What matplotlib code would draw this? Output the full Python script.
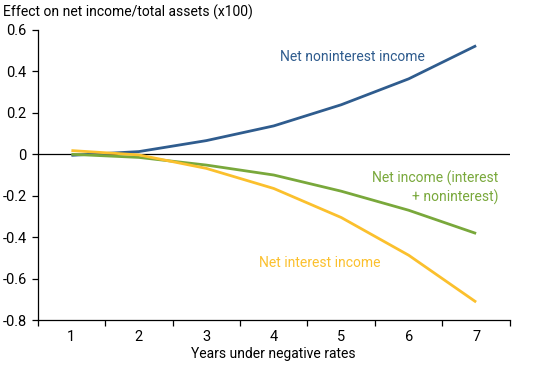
import matplotlib
matplotlib.use('Agg')
import matplotlib.pyplot as plt

plt.rcParams['font.family'] = ['Roboto', 'DejaVu Sans']

years = [1, 2, 3, 4, 5, 6, 7]
noninterest = [-0.005, 0.013, 0.066, 0.137, 0.239, 0.364, 0.524]
net_income = [0.0, -0.015, -0.052, -0.100, -0.178, -0.270, -0.382]
interest = [0.018, -0.003, -0.068, -0.165, -0.305, -0.487, -0.713]

c_blue = '#2f5c8e'
c_green = '#79a83b'
c_yellow = '#fbc02d'

fig = plt.figure(figsize=(5.5, 3.65), dpi=100)
ax = fig.add_axes([0.0685, 0.123, 0.8585, 0.795])

ax.plot(years, noninterest, color=c_blue, lw=2.0, solid_capstyle='butt')
ax.plot(years, net_income, color=c_green, lw=2.0, solid_capstyle='butt')
ax.plot(years, interest, color=c_yellow, lw=2.0, solid_capstyle='butt')
ax.axhline(0, color='black', lw=0.9, zorder=0)

ax.set_xlim(0.5, 7.5)
ax.set_ylim(-0.8, 0.6)
ax.set_yticks([-0.8, -0.6, -0.4, -0.2, 0, 0.2, 0.4, 0.6])
ax.set_yticklabels(['-0.8', '-0.6', '-0.4', '-0.2', '0', '0.2', '0.4', '0.6'])
ax.set_xticks([x + 0.5 for x in range(0, 8)])
ax.set_xticklabels([])
ax.set_xticks(years, minor=True)
ax.set_xticklabels([str(y) for y in years], minor=True)
ax.tick_params(axis='x', which='minor', length=0, pad=7, labelsize=10.5)
ax.tick_params(axis='x', which='major', length=4, width=0.9)
ax.tick_params(axis='y', length=4, width=0.9, labelsize=10.5, pad=4)

for s in ['top', 'right']:
    ax.spines[s].set_visible(False)
for s in ['left', 'bottom']:
    ax.spines[s].set_linewidth(0.9)

ax.set_xlabel('Years under negative rates', fontsize=10, labelpad=2)
fig.text(0.005, 0.965, 'Effect on net income/total assets (x100)', fontsize=10,
         va='center', ha='left')

ax.text(5.17, 0.47, 'Net noninterest income', color=c_blue, fontsize=10,
        ha='center', va='center')
ax.text(7.33, -0.163, 'Net income (interest\n+ noninterest)', color=c_green,
        fontsize=10, ha='right', va='center', linespacing=1.3)
ax.text(4.68, -0.526, 'Net interest income', color=c_yellow, fontsize=10,
        ha='center', va='center')

fig.savefig('out.png', dpi=100)
